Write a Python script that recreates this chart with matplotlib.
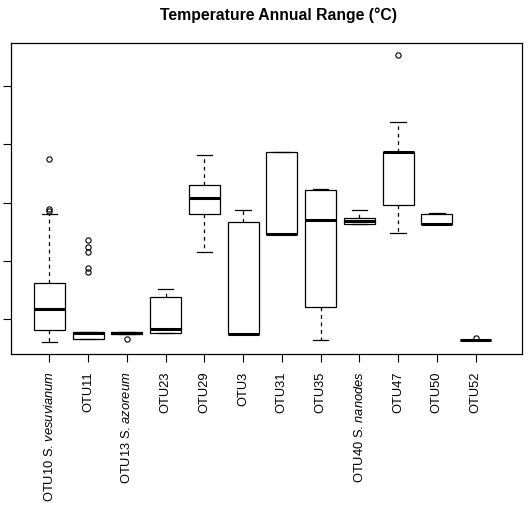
import matplotlib
matplotlib.use("Agg")
import matplotlib.pyplot as plt

plt.rcParams["font.family"] = ["Liberation Sans", "DejaVu Sans"]
plt.rcParams["mathtext.fontset"] = "custom"
plt.rcParams["mathtext.rm"] = "Liberation Sans"
plt.rcParams["mathtext.it"] = "Liberation Sans:italic"

# ── Data (five-number summaries) ─────────────────────────────────────────────
labels = [
    r"OTU10 S. $\mathit{vesuvianum}$", "OTU11", r"OTU13 S. $\mathit{azoreum}$",
    "OTU23", "OTU29", "OTU3", "OTU31", "OTU35",
    r"OTU40 S. $\mathit{nanodes}$", "OTU47", "OTU50", "OTU52",
]
whislo = [8.03, 8.28, 8.74, 8.85, 15.77, 8.77, 17.34, 8.25, 18.20, 17.38, 18.20, 8.22]
q1     = [9.08, 8.35, 8.74, 8.85, 19.03, 8.77, 17.34, 11.03, 18.20, 19.83, 18.20, 8.22]
med    = [10.91, 8.85, 8.83, 9.19, 20.38, 8.77, 17.34, 18.54, 18.43, 24.37, 18.20, 8.22]
q3     = [13.14, 8.90, 8.89, 11.89, 21.49, 18.37, 24.37, 21.06, 18.71, 24.37, 19.03, 8.22]
whishi = [19.03, 8.90, 8.89, 12.57, 24.07, 19.35, 24.37, 21.15, 19.35, 26.90, 19.14, 8.22]
fliers = [
    [19.42, 19.29, 23.72],
    [16.80, 16.17, 15.75, 14.37, 14.03],
    [8.28],
    [], [], [], [], [], [],
    [32.67],
    [],
    [8.42],
]
yticks = [10, 15, 20, 25, 30]


def main():
    fig = plt.figure(figsize=(5.31, 5.15), dpi=100)
    ax = fig.add_axes([0.0207, 0.3126, 0.9624, 0.6039])

    stats = [
        dict(whislo=a, q1=b, med=c, q3=d, whishi=e, fliers=f)
        for a, b, c, d, e, f in zip(whislo, q1, med, q3, whishi, fliers)
    ]
    ax.bxp(
        stats, positions=range(1, len(stats) + 1), widths=0.8, capwidths=0.4,
        patch_artist=True,
        boxprops=dict(facecolor="white", edgecolor="black", linewidth=0.9),
        medianprops=dict(color="black", linewidth=2.2, solid_capstyle="butt"),
        whiskerprops=dict(color="black", linewidth=0.9, linestyle=(0, (3, 3))),
        capprops=dict(color="black", linewidth=0.9),
        flierprops=dict(marker="o", markerfacecolor="none", markeredgecolor="black",
                        markersize=3.8, markeredgewidth=0.8),
    )

    ax.set_xlim(0.01, 13.2)
    ax.set_ylim(7.02, 33.70)
    ax.set_yticks(yticks)
    ax.set_yticklabels([])
    ax.set_xticks(range(1, len(labels) + 1))
    ax.set_xticklabels(labels, rotation=90, fontsize=9.3, va="top")
    ax.tick_params(axis="both", length=5.5, width=0.8, direction="out")
    ax.tick_params(axis="x", pad=7)
    for s in ax.spines.values():
        s.set_linewidth(0.9)

    fig.text(0.525, 0.970, "Temperature Annual Range (°C)", ha="center", va="center",
             fontsize=11.3, fontweight="bold")

    fig.savefig("out.png", dpi=100, facecolor="white")
    plt.close(fig)


if __name__ == "__main__":
    main()
